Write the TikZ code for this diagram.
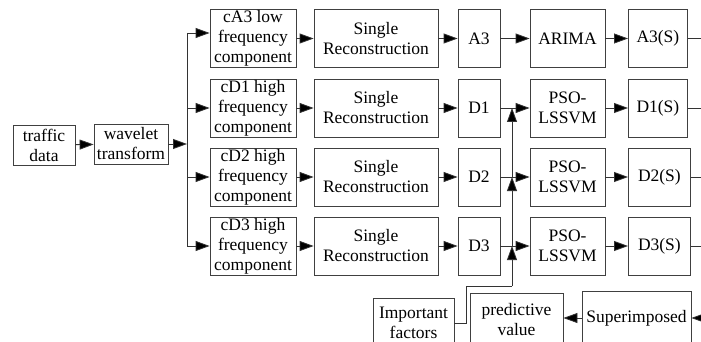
\documentclass[tikz,border=0pt]{standalone}
\usepackage{fontspec}
\setmainfont{Liberation Serif}
\usetikzlibrary{arrows.meta}

\tikzset{
  box/.style={draw=black!75, line width=0.8pt, align=center, inner sep=1pt,
    font=\fontsize{17.5}{20}\selectfont},
  arr/.style={-{Triangle[length=14pt,width=10pt,fill=black]}}
}

\begin{document}
\begin{tikzpicture}[x=1pt, y=-1pt, line width=0.8pt, draw=black!80]
    \useasboundingbox (0,0) rectangle (701,342);
    \clip (0,0) rectangle (701,342);

    % input side
    \node[box, minimum width=62pt, minimum height=40pt] (traffic) at (44,145) {traffic\\data};
    \node[box, minimum width=74pt, minimum height=40pt] (wavelet) at (131,144) {wavelet\\transform};
    \draw[arr] (traffic) -- (wavelet);

    % one row per component
    \foreach \i/\y/\sg/\cp/\md/\w in {1/38.5/A3/{cA3 low}/ARIMA/59,
                                      2/108/D1/{cD1 high}/{PSO-\\LSSVM}/59,
                                      3/177/D2/{cD2 high}/{PSO-\\LSSVM}/62,
                                      4/246/D3/{cD3 high}/{PSO-\\LSSVM}/62} {
        \node[box, minimum width=86pt, minimum height=58pt] (comp\i) at (253,\y) {\cp\\frequency\\component};
        \node[box, minimum width=124pt, minimum height=58pt] (rec\i) at (376,\y) {Single\\Reconstruction};
        \node[box, minimum width=42pt, minimum height=58pt] (sig\i) at (479,\y) {\sg};
        \node[box, minimum width=75pt, minimum height=58pt] (model\i) at (567.5,\y) {\md};
        \node[box, minimum width=\w pt, minimum height=58pt, anchor=west] (res\i) at (628,\y) {\sg(S)};
        \coordinate (out\i) at (701,\y);
        \draw[arr] (comp\i) -- (rec\i);
        \draw[arr] (rec\i) -- (sig\i);
        \draw[arr] (sig\i) -- (model\i);
        \draw[arr] (model\i) -- (res\i);
        \draw (res\i) -- (out\i);
    }

    % distribution bus
    \foreach \i/\y in {1/33, 2/108, 3/177, 4/246} {
        \coordinate (b\i) at (187,\y);
        \draw[arr] (b\i) -- (b\i -| comp\i.west);
    }
    \draw (b1) -- (b4);
    \draw[arr] (wavelet) -- (wavelet -| b1);

    % bottom row
    \node[box, minimum width=81pt, minimum height=50pt] (imp) at (413.5,323) {Important\\factors};
    \node[box, minimum width=93pt, minimum height=54pt] (pred) at (516.5,320) {predictive\\value};
    \node[box, minimum width=109pt, minimum height=54pt] (sup) at (636.5,318) {Superimposed};
    \coordinate (in) at (701,318);
    \draw[arr] (in) -- (sup);
    \draw[arr] (sup.west) -- (sup.west -| pred.east);

    % important factors feed the PSO-LSSVM models
    \coordinate (k) at (512,286);
    \draw (imp.east) -- ++(12,0) |- (k);
    \draw[arr] (k) -- (k |- sig4);
    \draw[arr] (k |- sig4) -- (k |- sig3);
    \draw[arr] (k |- sig3) -- (k |- sig2);
\end{tikzpicture}
\end{document}
